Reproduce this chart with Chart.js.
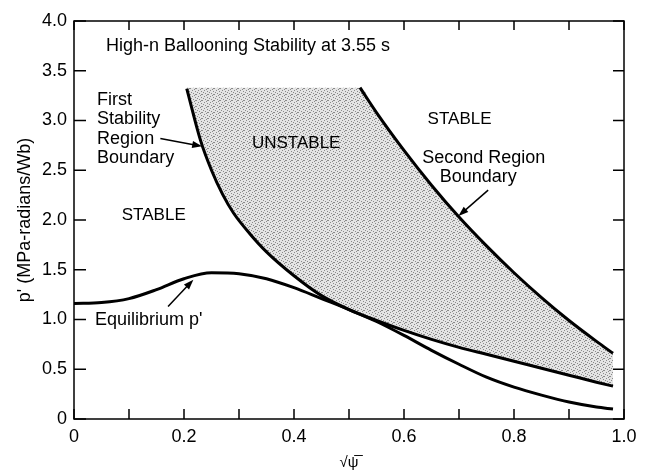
<!DOCTYPE html>
<html>
<head>
<meta charset="utf-8">
<script src="https://cdn.jsdelivr.net/npm/chart.js@4"></script>
<style>
  html, body { margin: 0; background: #fff; }
  #wrap { width: 645px; height: 474px; }
</style>
</head>
<body>
<div id="wrap"><canvas id="chart"></canvas></div>
<script>
// values (x = sqrt(psi), y = p')
const eqX = [0, 0.05, 0.1, 0.15, 0.2, 0.25, 0.3, 0.35, 0.4, 0.45, 0.5, 0.55, 0.6, 0.65, 0.7, 0.75, 0.8, 0.85, 0.9, 0.95, 0.98];
const eqY = [1.16, 1.17, 1.21, 1.3, 1.41, 1.47, 1.46, 1.41, 1.32, 1.21, 1.1, 0.98, 0.84, 0.69, 0.55, 0.42, 0.32, 0.24, 0.17, 0.12, 0.1];

const firstX = [0.205, 0.23, 0.25, 0.27, 0.29, 0.32, 0.35, 0.4, 0.45, 0.5, 0.55, 0.6, 0.65, 0.7, 0.75, 0.8, 0.85, 0.9, 0.95, 0.98];
const firstY = [3.32, 2.8, 2.5, 2.26, 2.07, 1.86, 1.68, 1.44, 1.24, 1.1, 0.99, 0.89, 0.8, 0.72, 0.65, 0.58, 0.51, 0.44, 0.37, 0.33];

const secondX = [0.52, 0.55, 0.6, 0.65, 0.7, 0.75, 0.8, 0.85, 0.9, 0.95, 0.98];
const secondY = [3.33, 3.08, 2.7, 2.35, 2.03, 1.74, 1.47, 1.22, 0.99, 0.78, 0.66];

// flat top of the shaded unstable band
const topX = [0.205];
const topY = [3.33];

const xTicks = [0, 0.1, 0.2, 0.3, 0.4, 0.5, 0.6, 0.7, 0.8, 0.9, 1.0];
const yTicks = [0, 0.5, 1.0, 1.5, 2.0, 2.5, 3.0, 3.5, 4.0];

const notes = [
  { text: 'High-n Ballooning Stability at 3.55 s', x: 0.058, y: 3.75, align: 'left', size: 18 },
  { text: 'First', x: 0.042, y: 3.21, align: 'left', size: 18 },
  { text: 'Stability', x: 0.042, y: 3.01, align: 'left', size: 18 },
  { text: 'Region', x: 0.042, y: 2.81, align: 'left', size: 18 },
  { text: 'Boundary', x: 0.042, y: 2.62, align: 'left', size: 18 },
  { text: 'UNSTABLE', x: 0.404, y: 2.77, align: 'center', size: 17 },
  { text: 'STABLE', x: 0.701, y: 3.01, align: 'center', size: 17 },
  { text: 'Second Region', x: 0.745, y: 2.62, align: 'center', size: 18 },
  { text: 'Boundary', x: 0.735, y: 2.43, align: 'center', size: 18 },
  { text: 'STABLE', x: 0.145, y: 2.05, align: 'center', size: 17 },
  { text: "Equilibrium p'", x: 0.038, y: 0.99, align: 'left', size: 18 }
];

const arrows = [
  [0.157, 2.82, 0.233, 2.74],
  [0.753, 2.3, 0.699, 2.04],
  [0.171, 1.13, 0.217, 1.4]
];

const toPts = (xs, ys) => xs.map((v, i) => ({ x: v, y: ys[i] }));
const FONT = '"Liberation Sans", Arial, Helvetica, sans-serif';

function stipple() {
  const c = document.createElement('canvas');
  c.width = 6; c.height = 6;
  const g = c.getContext('2d');
  g.fillStyle = '#e4e4e4';
  g.fillRect(0, 0, 6, 6);
  g.fillStyle = '#8a8a8a';
  [[0, 0], [3, 1], [1, 3], [4, 4], [2, 5], [5, 2], [3, 4]].forEach(([x, y]) => g.fillRect(x, y, 1, 1));
  return g.createPattern(c, 'repeat');
}

const decor = {
  id: 'decor',
  afterDraw(chart) {
    const { ctx, chartArea: a, scales: { x, y } } = chart;
    ctx.save();
    ctx.strokeStyle = '#000';
    ctx.lineWidth = 1.5;
    ctx.strokeRect(a.left, a.top, a.right - a.left, a.bottom - a.top);
    ctx.beginPath();
    xTicks.forEach(v => {
      const px = x.getPixelForValue(v);
      ctx.moveTo(px, a.bottom); ctx.lineTo(px, a.bottom - 10);
      ctx.moveTo(px, a.top); ctx.lineTo(px, a.top + 9);
    });
    yTicks.forEach(v => {
      const py = y.getPixelForValue(v);
      ctx.moveTo(a.left, py); ctx.lineTo(a.left + 12, py);
      ctx.moveTo(a.right, py); ctx.lineTo(a.right - 11, py);
    });
    ctx.stroke();

    ctx.fillStyle = '#000';
    ctx.textBaseline = 'middle';
    notes.forEach(n => {
      ctx.font = n.size + 'px ' + FONT;
      ctx.textAlign = n.align;
      ctx.fillText(n.text, x.getPixelForValue(n.x), y.getPixelForValue(n.y));
    });

    ctx.lineWidth = 1.5;
    arrows.forEach(([x1, y1, x2, y2]) => {
      const ax = x.getPixelForValue(x1), ay = y.getPixelForValue(y1);
      const bx = x.getPixelForValue(x2), by = y.getPixelForValue(y2);
      const ang = Math.atan2(by - ay, bx - ax);
      const c = Math.cos(ang), s = Math.sin(ang);
      ctx.beginPath();
      ctx.moveTo(ax, ay);
      ctx.lineTo(bx - 6 * c, by - 6 * s);
      ctx.stroke();
      ctx.beginPath();
      ctx.moveTo(bx, by);
      ctx.lineTo(bx - 10 * c + 3.5 * s, by - 10 * s - 3.5 * c);
      ctx.lineTo(bx - 10 * c - 3.5 * s, by - 10 * s + 3.5 * c);
      ctx.closePath();
      ctx.fill();
    });
    ctx.restore();
  }
};

const line = { borderColor: '#000', borderWidth: 3, pointRadius: 0, fill: false, cubicInterpolationMode: 'monotone' };

new Chart(document.getElementById('chart'), {
  type: 'scatter',
  data: {
    datasets: [
      { ...line, label: 'Equilibrium', data: toPts(eqX, eqY), showLine: true },
      { ...line, label: 'First boundary', data: toPts(firstX, firstY), showLine: true },
      { ...line, label: 'Second boundary', data: toPts(secondX, secondY), showLine: true },
      { label: 'Unstable', data: toPts(topX.concat(secondX), topY.concat(secondY)), showLine: true,
        borderWidth: 0, borderColor: 'rgba(0,0,0,0)', pointRadius: 0, cubicInterpolationMode: 'monotone',
        fill: { target: 1 }, backgroundColor: stipple(), order: 5 }
    ]
  },
  options: {
    responsive: true,
    maintainAspectRatio: false,
    animation: false,
    layout: { padding: { left: 0, right: 21, top: 21, bottom: 0 } },
    plugins: { legend: { display: false }, tooltip: { enabled: false } },
    scales: {
      x: {
        type: 'linear', min: 0, max: 1,
        afterBuildTicks: s => { s.ticks = xTicks.map(v => ({ value: v })); },
        afterFit: s => { s.height = 55; },
        grid: { display: false, drawTicks: false },
        border: { display: false },
        ticks: {
          color: '#000', font: { family: FONT, size: 18 }, padding: 7, maxRotation: 0, autoSkip: false,
          callback: (v, i) => (i % 2 ? '' : (v === 0 ? '0' : v.toFixed(1)))
        },
        title: { display: true, text: '\u221A\u03C8\u0305', color: '#000', font: { family: FONT, size: 15 }, padding: { top: 0, bottom: 2 } }
      },
      y: {
        type: 'linear', min: 0, max: 4,
        afterBuildTicks: s => { s.ticks = yTicks.map(v => ({ value: v })); },
        afterFit: s => { s.width = 74; },
        grid: { display: false, drawTicks: false },
        border: { display: false },
        ticks: {
          color: '#000', font: { family: FONT, size: 18 }, padding: 7,
          callback: v => (v === 0 ? '0' : v.toFixed(1))
        },
        title: { display: true, text: "p' (MPa-radians/Wb)", color: '#000', font: { family: FONT, size: 18 }, padding: { top: 14, bottom: 0 } }
      }
    }
  },
  plugins: [decor]
});
</script>
</body>
</html>
